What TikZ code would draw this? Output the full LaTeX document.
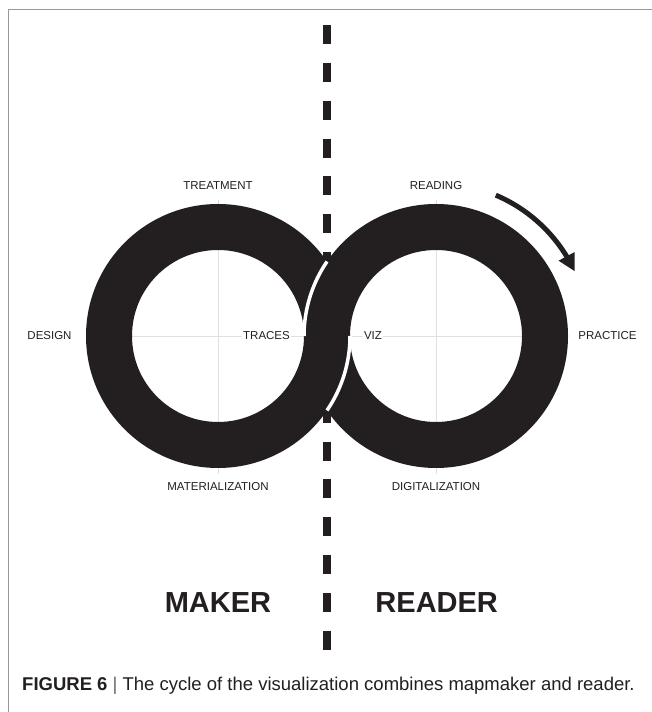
\documentclass[tikz,border=0pt]{standalone}
\usepackage{fontspec}
\setmainfont{Liberation Sans}
\usetikzlibrary{arrows.meta,bending}
\definecolor{ink}{HTML}{231F20}
\begin{document}
\begin{tikzpicture}[x=1pt,y=1pt,
  lbl/.style={font=\fontsize{11.5}{13}\selectfont, text=ink, inner sep=1pt},
  big/.style={font=\fontsize{29}{33}\selectfont\bfseries, text=ink, anchor=base, inner sep=0pt},
  cross/.style={draw=black!12, line width=0.8pt},
  gap/.style={draw=white, line width=3.5pt},
  ring/.style={fill=ink, even odd rule}]
\useasboundingbox (0,0) rectangle (652,712);
\fill[white] (0,0) rectangle (652,712);
% frame
\draw[black!40, line width=1.5pt] (8.5,0) -- (8.5,702.5) -- (652,702.5);
% centres
\coordinate (L) at (218,376);
\coordinate (R) at (436,376);
% crosshairs
\draw[cross] (132,376) -- (304,376);
\draw[cross] (218,512) -- (218,238);
\draw[cross] (350,376) -- (522,376);
\draw[cross] (436,512) -- (436,238);
% dashed divider
\coordinate (dtop) at (327,687);
\coordinate (dbot) at (327,62);
\draw[ink, line width=8pt, dash pattern=on 19pt off 18.87pt] (dtop) -- (dbot);
% rings
\fill[ring] (L) circle[radius=132] (L) circle[radius=86];
\fill[ring] (R) circle[radius=132] (R) circle[radius=86];
% gaps
\draw[gap] ([shift={(R)}]145.65:132) arc[start angle=145.65, end angle=180, radius=132];
\draw[gap] ([shift={(L)}]0:132) arc[start angle=0, end angle=-34.35, radius=132];
% arrow
\draw[ink, line width=5pt, -{Triangle[width=17pt,length=17pt]}] ([shift={(R)}]67:153) arc[start angle=67, end angle=25, radius=153];
% labels
\node[lbl] (treat) at (218,526) {TREATMENT};
\node[lbl] (read) at (436,526) {READING};
\node[lbl] (design) at (49.5,376) {DESIGN};
\node[lbl, fill=white] (traces) at (266.5,376) {TRACES};
\node[lbl, fill=white] (viz) at (373,376) {VIZ};
\node[lbl] (practice) at (607.5,376) {PRACTICE};
\node[lbl] (mat) at (218,225) {MATERIALIZATION};
\node[lbl] (dig) at (436,225) {DIGITALIZATION};
\node[big] (maker) at (218,99) {MAKER};
\node[big] (reader) at (436.7,99) {READER};
\node[anchor=base west, inner sep=0pt, text=ink, font=\fontsize{18.5}{22}\selectfont] (cap) at (22,21) {\textbf{FIGURE 6} {\color{black!60}|} The cycle of the visualization combines mapmaker and reader.};
\end{tikzpicture}
\end{document}
